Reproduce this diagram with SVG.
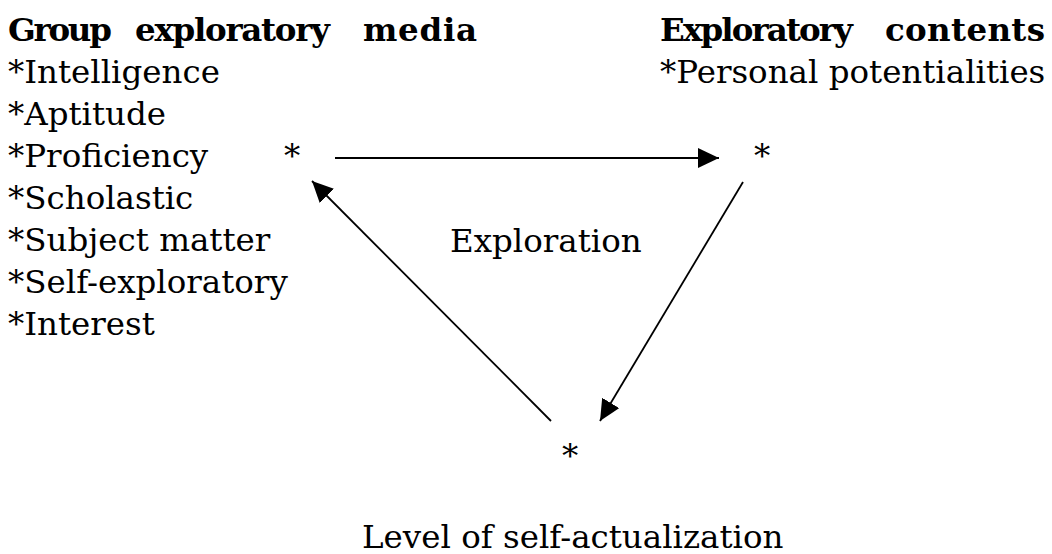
<svg xmlns="http://www.w3.org/2000/svg" width="1052" height="554" viewBox="0 0 1052 554">
  <style>
    text { font-family: "DejaVu Serif", "Liberation Serif", serif; font-size: 32.5px; fill: #000; }
    .head { font-weight: bold; }
    .conn { stroke: #000; stroke-width: 1.8; fill: none; }
  </style>
  <defs>
    <marker id="arrow" markerUnits="userSpaceOnUse" markerWidth="22" markerHeight="22" refX="21" refY="10" orient="auto">
      <path d="M0,0 L21,10 L0,20 Z" fill="#000"/>
    </marker>
  </defs>
  <rect width="1052" height="554" fill="#fff"/>

  <!-- media list -->
  <g id="media">
    <text class="head" y="41" lengthAdjust="spacingAndGlyphs"><tspan x="8" textLength="104">Group</tspan><tspan x="135" textLength="195">exploratory</tspan><tspan x="363" textLength="114">media</tspan></text>
    <text x="8" y="83">*Intelligence</text>
    <text x="8" y="125">*Aptitude</text>
    <text x="8" y="167">*Proficiency</text>
    <text x="8" y="209">*Scholastic</text>
    <text x="8" y="251">*Subject matter</text>
    <text x="8" y="293">*Self-exploratory</text>
    <text x="8" y="335">*Interest</text>
  </g>

  <!-- contents -->
  <g id="contents">
    <text class="head" y="41" lengthAdjust="spacingAndGlyphs"><tspan x="660" textLength="193">Exploratory</tspan><tspan x="885" textLength="160">contents</tspan></text>
    <text x="660" y="83">*Personal potentialities</text>
  </g>

  <!-- triangle vertices -->
  <g id="vertex-media"><text x="284" y="167">*</text></g>
  <g id="vertex-contents"><text x="754" y="167">*</text></g>
  <g id="vertex-level"><text x="562" y="467">*</text></g>

  <g id="exploration"><text x="450" y="252">Exploration</text></g>
  <g id="level"><text x="362" y="548">Level of self-actualization</text></g>

  <g id="connectors">
    <line class="conn" x1="335" y1="158" x2="719" y2="158" marker-end="url(#arrow)"/>
    <line class="conn" x1="743" y1="182" x2="600" y2="421" marker-end="url(#arrow)"/>
    <line class="conn" x1="551" y1="421" x2="312" y2="181" marker-end="url(#arrow)"/>
  </g>
</svg>
